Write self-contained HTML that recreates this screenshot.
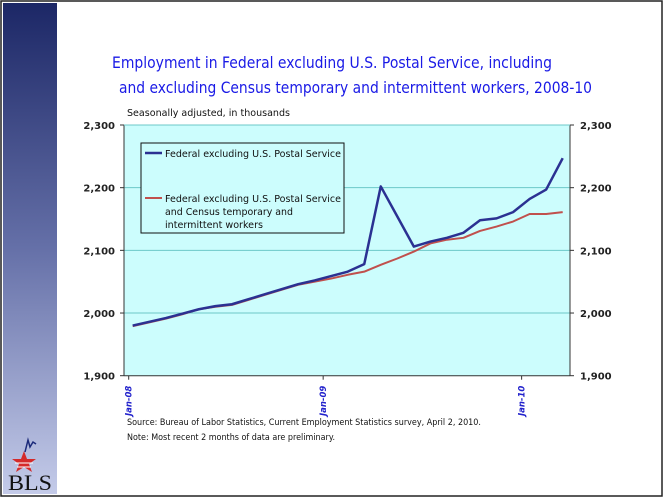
<!DOCTYPE html>
<html><head><meta charset="utf-8"><style>
html,body{margin:0;padding:0;background:#fff;}
svg{display:block;font-family:"DejaVu Sans","Liberation Sans",sans-serif;}
</style></head><body>
<svg width="666" height="500" viewBox="0 0 666 500">
<defs>
<linearGradient id="band" x1="0" y1="0" x2="0" y2="1">
<stop offset="0" stop-color="#1c2766"/><stop offset="0.5" stop-color="#6570a8"/><stop offset="1" stop-color="#c4cbe9"/>
</linearGradient>
</defs>
<rect x="1" y="1" width="661" height="495" fill="#fff" stroke="#222" stroke-width="1.5"/>
<rect x="3" y="3" width="54" height="491" fill="url(#band)"/>
<g>
<polygon points="24,451 27,459 36,459 29,464 32,472 24,467 16,472 19,464 12,459 21,459" fill="#d42a2a"/>
<line x1="15" y1="463" x2="33" y2="463" stroke="#fff" stroke-width="1"/>
<line x1="17" y1="467" x2="31" y2="467" stroke="#fff" stroke-width="1"/>
<polyline points="25,452 28,440 30,447 33,442 36,444" fill="none" stroke="#1b2a7a" stroke-width="1.5"/>
<text x="8" y="490" font-family="Liberation Serif,serif" font-size="22" fill="#111" textLength="44" lengthAdjust="spacingAndGlyphs">BLS</text>
</g>
<text x="112" y="68" font-size="16" fill="#1a1ae6" textLength="440" lengthAdjust="spacingAndGlyphs">Employment in Federal excluding U.S. Postal Service, including</text>
<text x="119" y="93" font-size="16" fill="#1a1ae6" textLength="473" lengthAdjust="spacingAndGlyphs">and excluding Census temporary and intermittent workers, 2008-10</text>
<text x="127" y="116" font-size="9.5" fill="#111" textLength="163" lengthAdjust="spacingAndGlyphs">Seasonally adjusted, in thousands</text>
<g id="plot"></g>
<text x="127" y="425" font-size="8.5" fill="#111" textLength="354" lengthAdjust="spacingAndGlyphs">Source:  Bureau of Labor Statistics, Current Employment Statistics survey, April 2, 2010.</text>
<text x="127" y="440" font-size="8.5" fill="#111" textLength="208" lengthAdjust="spacingAndGlyphs">Note: Most recent 2 months of data are preliminary.</text>
</svg>
<script>
const months = ["Jan-08","Feb-08","Mar-08","Apr-08","May-08","Jun-08","Jul-08","Aug-08","Sep-08","Oct-08","Nov-08","Dec-08","Jan-09","Feb-09","Mar-09","Apr-09","May-09","Jun-09","Jul-09","Aug-09","Sep-09","Oct-09","Nov-09","Dec-09","Jan-10","Feb-10","Mar-10"];
const federalExPostal = [1980,1986,1992,1999,2006,2011,2014,2022,2030,2038,2046,2052,2059,2066,2078,2202,2154,2106,2114,2120,2128,2148,2151,2161,2182,2197,2247];
const federalExPostalCensus = [1979,1985,1991,1998,2006,2010,2013,2021,2029,2037,2045,2050,2055,2061,2066,2077,2087,2098,2111,2117,2120,2131,2138,2146,2158,2158,2161];
const yTicks = [1900,2000,2100,2200,2300];
const yTickLabels = ["1,900","2,000","2,100","2,200","2,300"];
const xLabelIdx = [0,12,24];

const NS="http://www.w3.org/2000/svg";
const g=document.getElementById('plot');
const L=124,R=570,T=125,B=375.7;
const x=i=>132.7+(R-L-16)/ (months.length-1) * i;
const y=v=>B-(v-1900)/400*(B-T);
function mk(t,a,p){const e=document.createElementNS(NS,t);for(const k in a)e.setAttribute(k,a[k]);(p||g).appendChild(e);return e;}

const bg=mk('rect',{x:L,y:T,width:R-L,height:B-T,fill:'#ccfdfd'});


yTicks.forEach((v,k)=>{
  if(v>1900&&v<2300){const gl=mk('line',{x1:L,x2:R,y1:y(v),y2:y(v),stroke:'#6cc8c8','stroke-width':1});
  
  }
  mk('line',{x1:L-4,x2:L,y1:y(v),y2:y(v),stroke:'#333'});
  mk('line',{x1:R,x2:R+4,y1:y(v),y2:y(v),stroke:'#333'});
  const tl=mk('text',{x:L-9,y:y(v)+4,'text-anchor':'end','font-size':10,'font-weight':'bold',fill:'#222'});
  tl.textContent=yTickLabels[k];
  
  
  const tr=mk('text',{x:R+10,y:y(v)+4,'font-size':10,'font-weight':'bold',fill:'#222'});
  tr.textContent=yTickLabels[k];
  
  
});
mk('line',{x1:L,x2:L,y1:T,y2:B,stroke:'#333'});
mk('line',{x1:R,x2:R,y1:T,y2:B,stroke:'#333'});
mk('line',{x1:L,x2:R,y1:T,y2:T,stroke:'#6cc8c8'});
mk('line',{x1:L,x2:R,y1:B,y2:B,stroke:'#333'});
xLabelIdx.forEach(i=>{
  const xx=x(i)-(i?8:4);
  mk('line',{x1:xx,x2:xx,y1:B,y2:B+4,stroke:'#333'});
  const t=mk('text',{x:0,y:0,'text-anchor':'end','font-size':8.5,'font-weight':'bold','font-style':'italic',fill:'#2222cc',transform:`translate(${xx+3},${B+10}) rotate(-90)`});
  t.textContent=months[i];
  
  
});
function line(data,color,name){
  const p=mk('polyline',{points:data.map((v,i)=>x(i)+','+y(v)).join(' '),fill:'none',stroke:color,'stroke-width':name==='series-federal-ex-postal'?2.5:2,'stroke-linejoin':'round'});
  
  
}
line(federalExPostalCensus,'#c0504d','series-federal-ex-postal-census');
line(federalExPostal,'#2b3192','series-federal-ex-postal');

const lg=mk('g',{});


mk('rect',{x:141,y:143,width:203,height:90,fill:'#ccfdfd',stroke:'#111','stroke-width':1},lg);
mk('line',{x1:145,x2:162,y1:153,y2:153,stroke:'#2b3192','stroke-width':2.5},lg);
const l1=mk('text',{x:165,y:157,'font-size':9.5,fill:'#111',textLength:176,lengthAdjust:'spacingAndGlyphs'},lg);
l1.textContent='Federal excluding U.S. Postal Service';


mk('line',{x1:145,x2:162,y1:198,y2:198,stroke:'#c0504d','stroke-width':2},lg);
const l2=mk('text',{x:165,y:202,'font-size':9.5,fill:'#111',textLength:176,lengthAdjust:'spacingAndGlyphs'},lg);
l2.textContent='Federal excluding U.S. Postal Service';


const l3=mk('text',{x:165,y:215,'font-size':9.5,fill:'#111',textLength:128,lengthAdjust:'spacingAndGlyphs'},lg);
l3.textContent='and Census temporary and';
const l4=mk('text',{x:165,y:228,'font-size':9.5,fill:'#111',textLength:98,lengthAdjust:'spacingAndGlyphs'},lg);
l4.textContent='intermittent workers';
</script>
</body></html>
